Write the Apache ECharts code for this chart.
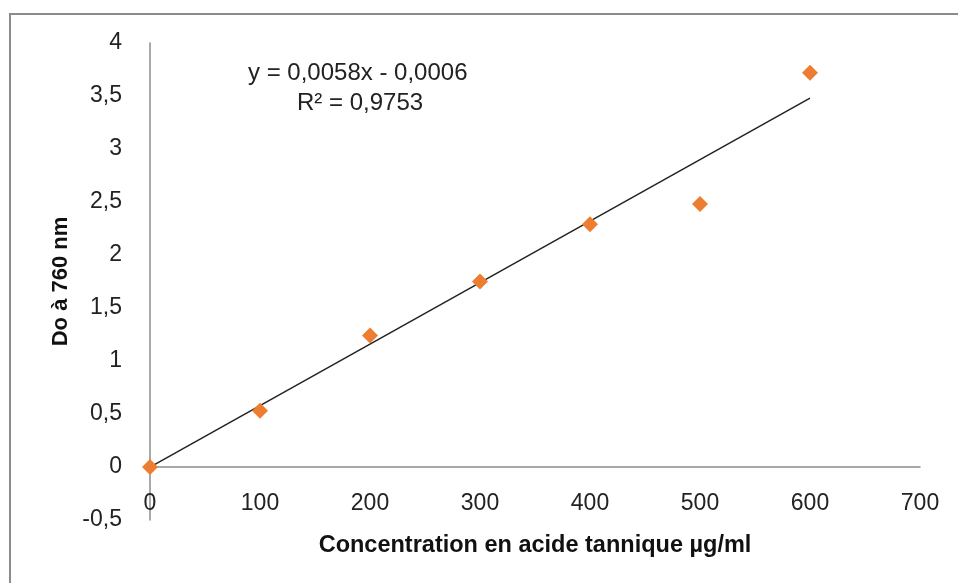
<!DOCTYPE html>
<html>
<head>
<meta charset="utf-8">
<script src="https://cdn.jsdelivr.net/npm/echarts@6/dist/echarts.min.js"></script>
<style>
  html, body { margin: 0; padding: 0; background: #fff; }
  #frame {
    position: absolute; left: 9px; top: 13px; width: 960px; height: 580px;
    border-left: 2px solid #8c8c8c; border-top: 2px solid #8c8c8c;
  }
  #chart { position: absolute; left: 0; top: 0; width: 958px; height: 583px; }
</style>
</head>
<body>
<div id="frame"></div>
<div id="chart"></div>
<script>
// concentration en acide tannique (µg/ml) et densité optique
const concentrations = [0, 100, 200, 300, 400, 500, 600];
const absorbances = [0, 0.53, 1.24, 1.75, 2.29, 2.48, 3.72];
// courbe de tendance (Excel)
const slope = 0.0058;
const intercept = -0.0006;
const rSquared = "0,9753";

const font = "'Liberation Sans', Arial, sans-serif";
const pts = concentrations.map((c, i) => [c, absorbances[i]]);
const last = concentrations[concentrations.length - 1];
const trend = [
  [concentrations[0], slope * concentrations[0] + intercept],
  [last, slope * last + intercept]
];

const chart = echarts.init(document.getElementById("chart"));
chart.setOption({
  animation: false,
  grid: { left: 150, right: 38, top: 43, bottom: 63, outerBoundsMode: "none", containLabel: false },
  xAxis: {
    type: "value",
    min: 0, max: 700, interval: 100,
    splitLine: { show: false },
    axisTick: { show: false },
    axisLine: { onZero: true, lineStyle: { color: "#8c8c8c", width: 1.5 } },
    axisLabel: { color: "#222", fontFamily: font, fontSize: 23, margin: -28 },
    name: "Concentration en acide tannique µg/ml",
    nameLocation: "middle",
    nameGap: 14,
    nameTextStyle: { color: "#111", fontFamily: font, fontSize: 23.5, fontWeight: "bold" }
  },
  yAxis: {
    type: "value",
    min: -0.5, max: 4, interval: 0.5,
    splitLine: { show: false },
    axisTick: { show: false },
    axisLine: { lineStyle: { color: "#8c8c8c", width: 1.5 } },
    axisLabel: {
      color: "#222", fontFamily: font, fontSize: 23, margin: 28,
      formatter: v => String(v).replace(".", ",")
    },
    name: "Do à 760 nm",
    nameLocation: "middle",
    nameGap: 75,
    nameTextStyle: { color: "#111", fontFamily: font, fontSize: 22, fontWeight: "bold" }
  },
  series: [
    {
      type: "line",
      data: trend,
      symbol: "none",
      lineStyle: { color: "#222", width: 1.5 },
      z: 1
    },
    {
      type: "scatter",
      data: pts,
      symbol: "diamond",
      symbolSize: 16,
      itemStyle: { color: "#ED7D31", opacity: 1 },
      z: 2
    }
  ],
  graphic: [
    {
      type: "text", left: 248, top: 61,
      style: { text: "y = " + String(slope).replace(".", ",") + "x - " + Math.abs(intercept).toFixed(4).replace(".", ","), fill: "#222", font: "24px " + font }
    },
    {
      type: "text", left: 297, top: 91,
      style: { text: "R² = " + rSquared, fill: "#222", font: "24px " + font }
    }
  ]
});
</script>
</body>
</html>
